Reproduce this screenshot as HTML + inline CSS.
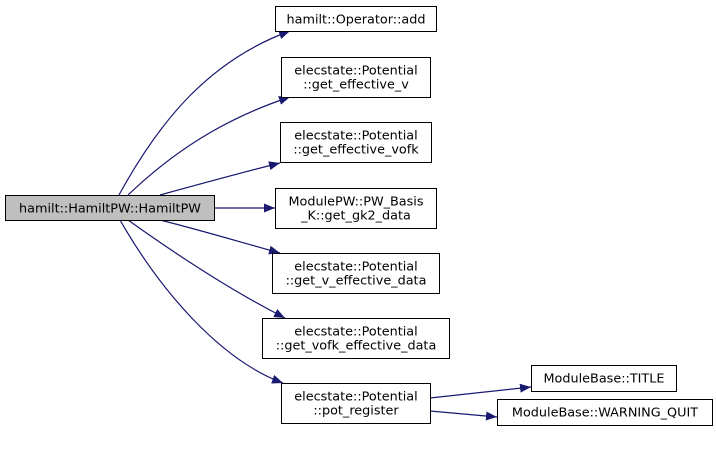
<!DOCTYPE html>
<html><head><style>html,body{margin:0;padding:0;background:#fff}</style></head><body>
<svg width="716" height="448" xmlns="http://www.w3.org/2000/svg" font-family="'DejaVu Sans','Liberation Sans',sans-serif" font-size="12.8">
<defs><marker id="a" viewBox="0 0 11 9" refX="11" refY="4.5" markerWidth="11" markerHeight="9" markerUnits="userSpaceOnUse" orient="auto"><path d="M0,0L11,4.5L0,9z" fill="#191970"/></marker></defs>
<g fill="none" stroke="#191970" stroke-width="1.2" marker-end="url(#a)">
<path d="M119,195C160,120 210,60 290,31"/>
<path d="M128,195C170,155 220,120 290,97"/>
<path d="M160,195C200,184 240,173 280,163"/>
<path d="M214,208L275,208"/>
<path d="M160,220C200,230 240,242 280,253"/>
<path d="M128,220C170,250 230,290 285,318"/>
<path d="M120,220C160,290 220,360 283,383"/>
<path d="M430,398L531,387"/>
<path d="M430,411L497,417"/>
</g>
<g stroke="#000" stroke-width="1">
<rect x="5.5" y="195.5" width="209" height="25" fill="#bfbfbf"/>
<rect x="275.5" y="6.5" width="161" height="25" fill="#fff"/>
<rect x="281.5" y="57.5" width="149" height="40" fill="#fff"/>
<rect x="280.5" y="122.5" width="151" height="40" fill="#fff"/>
<rect x="275.5" y="188.5" width="161" height="40" fill="#fff"/>
<rect x="272.5" y="253.5" width="167" height="40" fill="#fff"/>
<rect x="262.5" y="318.5" width="187" height="40" fill="#fff"/>
<rect x="281.5" y="383.5" width="149" height="40" fill="#fff"/>
<rect x="531.5" y="365.5" width="145" height="26" fill="#fff"/>
<rect x="497.5" y="399.5" width="215" height="26" fill="#fff"/>
</g>
<g fill="#000" text-anchor="middle">
<text x="110" y="212.5">hamilt::HamiltPW::HamiltPW</text>
<text x="356" y="23.5">hamilt::Operator::add</text>
<text x="356" y="74.5">elecstate::Potential</text>
<text x="356" y="88.5">::get_effective_v</text>
<text x="356" y="139.5">elecstate::Potential</text>
<text x="356" y="153.5">::get_effective_vofk</text>
<text x="356" y="205.5">ModulePW::PW_Basis</text>
<text x="356" y="219.5">_K::get_gk2_data</text>
<text x="356" y="270.5">elecstate::Potential</text>
<text x="356" y="284.5">::get_v_effective_data</text>
<text x="356" y="335.5">elecstate::Potential</text>
<text x="356" y="349.5">::get_vofk_effective_data</text>
<text x="356" y="400.5">elecstate::Potential</text>
<text x="356" y="414.5">::pot_register</text>
<text x="604" y="382.5">ModuleBase::TITLE</text>
<text x="605" y="416.5">ModuleBase::WARNING_QUIT</text>
</g>
</svg>
</body></html>
